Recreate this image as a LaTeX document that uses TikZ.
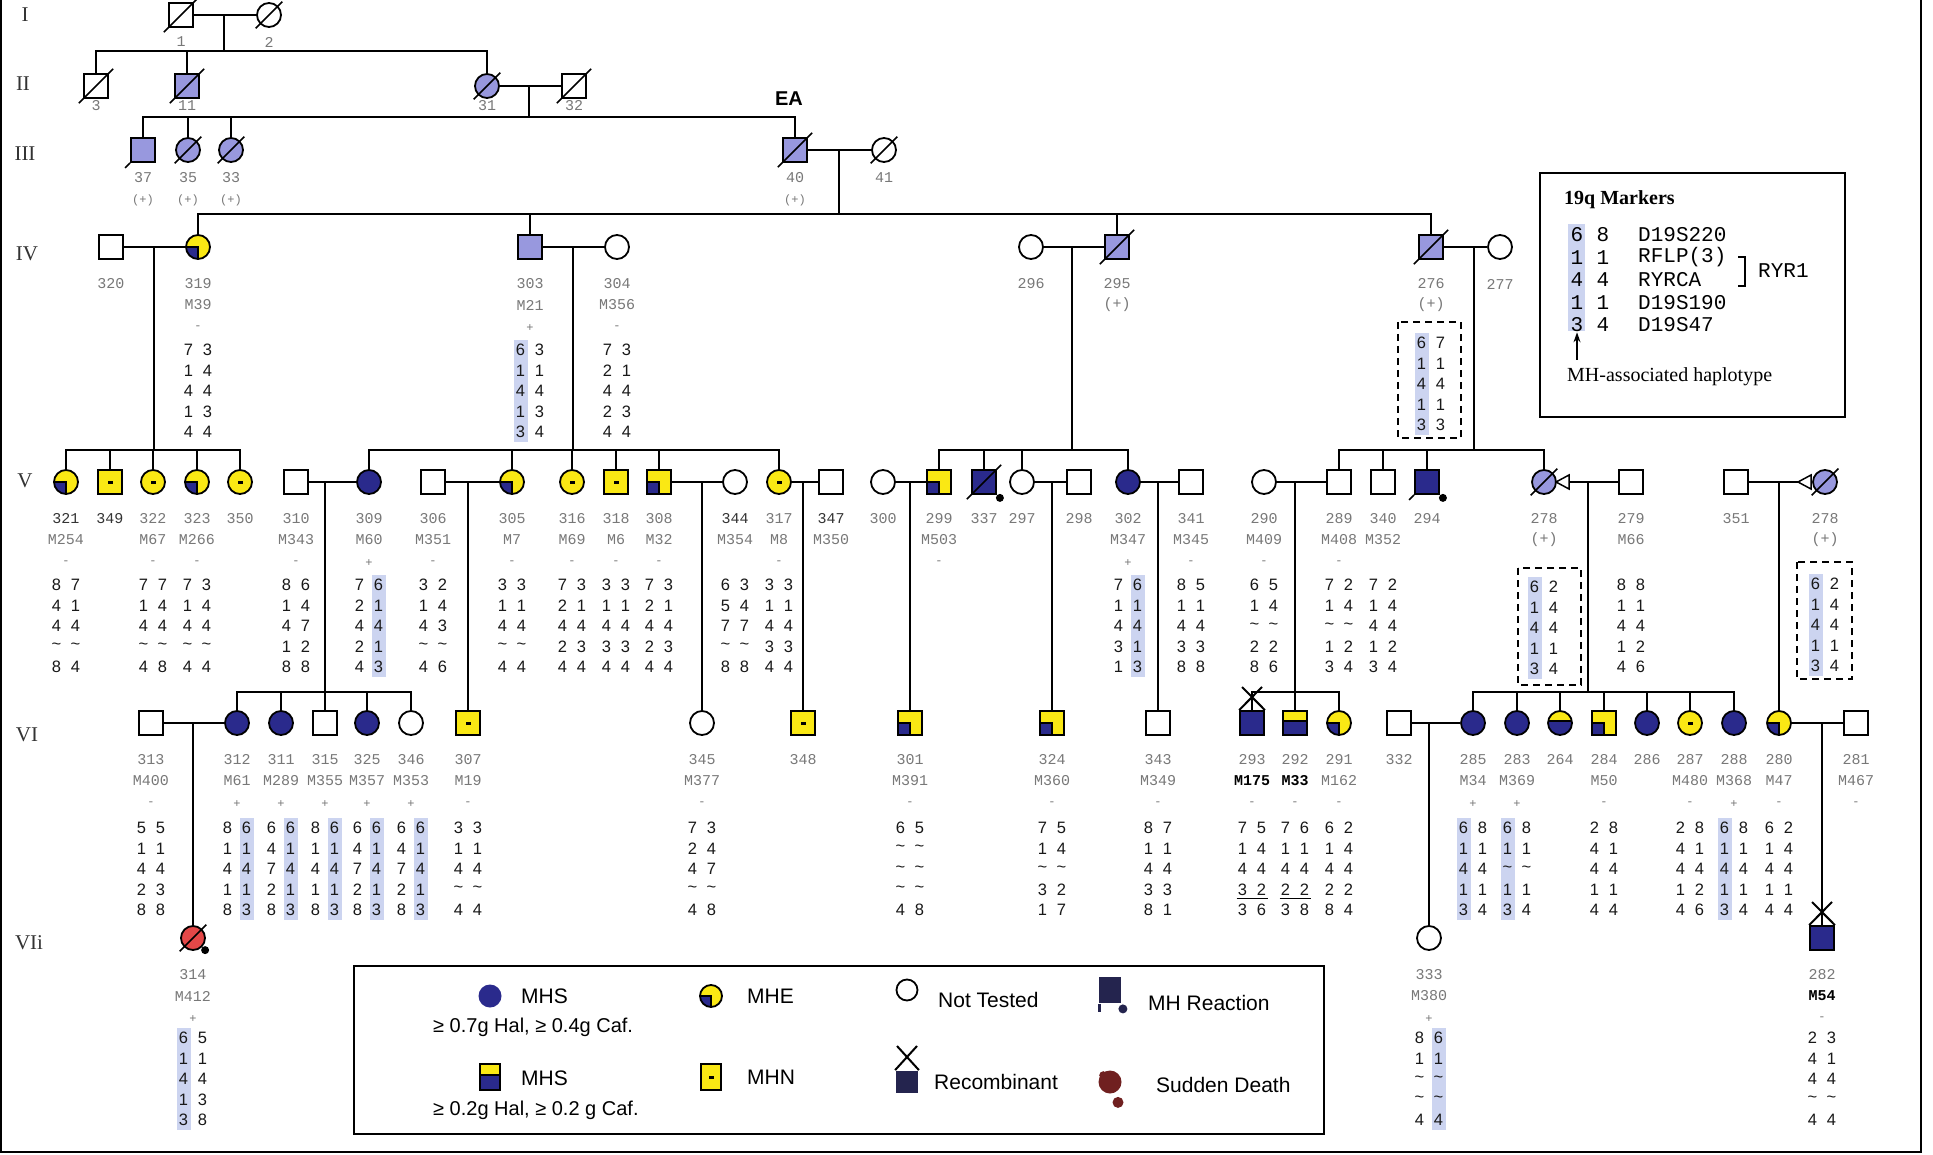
\documentclass[tikz,border=0pt]{standalone}
\usepackage{fontspec}
\setmainfont{Liberation Sans}
\newfontfamily\monof{Liberation Mono}
\newfontfamily\seriff{Liberation Serif}
\usetikzlibrary{arrows.meta}

\definecolor{mhsblue}{RGB}{42,42,140}
\definecolor{lav}{RGB}{152,152,222}
\definecolor{myyellow}{RGB}{250,232,20}
\definecolor{hlblue}{RGB}{204,212,240}
\definecolor{idgrey}{RGB}{120,120,120}
\definecolor{reactblue}{RGB}{36,36,78}
\definecolor{sdred}{RGB}{228,72,72}
\definecolor{sdmaroon}{RGB}{112,32,32}

\newcommand{\tld}{\textasciitilde}
% id, M-number and test result under a symbol
\newcommand{\info}[4]{%
  \node[idtxt] (#1i) at ([shift={(0,37)}]#1.center) {#2};
  \node[idtxt] (#1m) at ([shift={(0,58)}]#1.center) {#3};
  \node[sgn]   (#1s) at ([shift={(0,81)}]#1.center) {#4};}
% haplotype pairs, optional start offset, highlighted column
\newcommand{\hap}[4][103]{%
  \ifnum#4>0
    \fill[hlblue] ([shift={({(#4-1.5)*19-7},{#1-10})}]#2.center) rectangle ++(14,102);
  \fi
  \foreach \ha/\hb [count=\k from 0] in {#3}{
    \node[hp] (#2a\k) at ([shift={(-9.5,{#1+20.5*\k})}]#2.center) {\ha};
    \node[hp] (#2b\k) at ([shift={(9.5,{#1+20.5*\k})}]#2.center) {\hb};}}
% recombinant cross above a symbol
\newcommand{\recx}[1]{%
  \draw[line width=2pt] ([shift={(-10,-36)}]#1.center) -- (#1.north east)
                        ([shift={(10,-36)}]#1.center) -- (#1.north west);}

\begin{document}
\begin{tikzpicture}[x=1pt, y=-1pt,
  ind/.style={draw, line width=1.8pt, minimum size=24pt, inner sep=0pt, fill=white},
  sq/.style={ind, rectangle},
  ci/.style={ind, circle},
  lav/.style={fill=lav},
  mhs/.style={fill=mhsblue},
  mhe/.style={fill=myyellow, path picture={
      \fill[mhsblue] (path picture bounding box.center) rectangle (path picture bounding box.south west);
      \draw[line width=1.5pt] (path picture bounding box.west) -- (path picture bounding box.center)
        -- (path picture bounding box.south);}},
  mhn/.style={fill=myyellow, path picture={
      \fill[black] ([shift={(-2.5pt,-1.5pt)}]path picture bounding box.center)
        rectangle ([shift={(2.5pt,1.5pt)}]path picture bounding box.center);}},
  half/.style={fill=myyellow, path picture={
      \fill[mhsblue] ([shift={(0pt,2pt)}]path picture bounding box.west) rectangle (path picture bounding box.south east);
      \draw[line width=1.5pt] ([shift={(0pt,2pt)}]path picture bounding box.west)
        -- ([shift={(0pt,2pt)}]path picture bounding box.east);}},
  dead/.style={append after command={(\tikzlastnode.south west)
      edge[line width=1.6pt, shorten <=-6pt, shorten >=-6pt] (\tikzlastnode.north east)}},
  ln/.style={line width=1.8pt},
  idtxt/.style={font=\monof\fontsize{15}{15}\selectfont, text=idgrey, inner sep=0pt},
  sgn/.style={font=\monof\fontsize{12}{12}\selectfont, text=idgrey, inner sep=0pt},
  hp/.style={font=\fontsize{16.5}{16.5}\selectfont, text=black!90, inner sep=0pt},
  gen/.style={font=\seriff\fontsize{21}{21}\selectfont, text=black!80},
  mk/.style={font=\monof\fontsize{21}{21}\selectfont, inner sep=0pt},
  lgt/.style={anchor=west, font=\fontsize{21}{21}\selectfont, inner sep=0pt},
  lgs/.style={anchor=west, font=\fontsize{20}{20}\selectfont, inner sep=0pt}
]
\path[fill=white, use as bounding box] (0,0) rectangle (1933,1155);
\draw[line width=2pt] (1,0) -- (1,1152) -- (1921,1152) -- (1921,0);

% generations
\node[gen] (gI)   at (25,15)  {I};
\node[gen] (gII)  at (23,84)  {II};
\node[gen] (gIII) at (25,154) {III};
\node[gen] (gIV)  at (27,254) {IV};
\node[gen] (gV)   at (25,481) {V};
\node[gen] (gVI)  at (27,735) {VI};
\node[gen] (gVII) at (29,943) {VIi};
\node[font=\bfseries\fontsize{20}{20}\selectfont] (ea) at (789,99) {EA};

% I
\node[sq,dead] (p1) at (181,15) {};
\node[ci,dead] (p2) at (269,15) {};
\node[idtxt] (p1i) at (181,42) {1};
\node[idtxt] (p2i) at (269,42) {2};
\draw[ln] (p1) -- (p2);
\coordinate (m1) at (224,15);
\coordinate (s1) at (224,51);
\draw[ln] (m1) -- (s1);

% II
\node[sq,dead] (p3) at (96,86) {};
\node[sq,lav,dead] (p11) at (187,86) {};
\node[ci,lav,dead] (p31) at (487,86) {};
\node[sq,dead] (p32) at (574,86) {};
\foreach \n/\x in {3/96,11/187,31/487,32/574}
  \node[idtxt] (p\n i) at (\x,106) {\n};
\foreach \c in {p3,p11,p31}
  \draw[ln] (\c) |- (s1);
\draw[ln] (p31) -- (p32);
\coordinate (m31) at (529,86);
\coordinate (s31) at (529,117);
\draw[ln] (m31) -- (s31);

% III
\node[sq,lav] (p37) at (143,150) {};
\draw[line width=1.6pt] (p37.south west) -- ++(-5,5);
\node[ci,lav,dead] (p35) at (188,150) {};
\node[ci,lav,dead] (p33) at (231,150) {};
\node[sq,lav,dead] (p40) at (795,150) {};
\node[ci,dead] (p41) at (884,150) {};
\foreach \n/\x in {37/143,35/188,33/231,40/795}{
  \node[idtxt] (p\n i) at (\x,178) {\n};
  \node[sgn] (p\n p) at (\x,200) {(+)};}
\node[idtxt] (p41i) at (884,178) {41};
\foreach \c in {p37,p35,p33,p40}
  \draw[ln] (\c) |- (s31);
\draw[ln] (p40) -- (p41);
\coordinate (m40) at (839,150);
\coordinate (s40) at (839,214);
\draw[ln] (m40) -- (s40);

% IV
\node[sq] (p320) at (111,247) {};
\node[ci,mhe] (p319) at (198,247) {};
\node[sq,lav] (p303) at (530,247) {};
\node[ci] (p304) at (617,247) {};
\node[ci] (p296) at (1031,247) {};
\node[sq,lav,dead] (p295) at (1117,247) {};
\node[sq,lav,dead] (p276) at (1431,247) {};
\node[ci] (p277) at (1500,247) {};
\foreach \c in {p319,p303,p295,p276}
  \draw[ln] (\c) |- (s40);
\draw[ln] (p320) -- (p319);
\draw[ln] (p303) -- (p304);
\draw[ln] (p296) -- (p295);
\draw[ln] (p276) -- (p277);
\coordinate (m319) at (154,247); \coordinate (s319) at (154,450);
\coordinate (m303) at (573,247); \coordinate (s303) at (573,450);
\coordinate (m295) at (1072,247); \coordinate (s295) at (1072,450);
\coordinate (m276) at (1474,247); \coordinate (s276) at (1474,450);
\draw[ln] (m319) -- (s319);
\draw[ln] (m303) -- (s303);
\draw[ln] (m295) -- (s295);
\draw[ln] (m276) -- (s276);

\info{p320}{320}{}{}
\info{p319}{319}{M39}{-}
\info{p303}{303}{M21}{+}
\info{p304}{304}{M356}{-}
\info{p296}{296}{}{}
\info{p295}{295}{(+)}{}
\info{p276}{276}{(+)}{}
\info{p277}{277}{}{}
\hap{p319}{7/3,1/4,4/4,1/3,4/4}{0}
\hap{p303}{6/3,1/1,4/4,1/3,3/4}{1}
\hap{p304}{7/3,2/1,4/4,2/3,4/4}{0}
\draw[dashed, line width=1.6pt, dash pattern=on 7pt off 5pt] (1398,322) rectangle (1461,438);
\hap[96]{p276}{6/7,1/1,4/4,1/1,3/3}{1}

% V
\node[ci,mhe] (p321) at (66,482) {};
\node[sq,mhn] (p349) at (110,482) {};
\node[ci,mhn] (p322) at (153,482) {};
\node[ci,mhe] (p323) at (197,482) {};
\node[ci,mhn] (p350) at (240,482) {};
\node[sq] (p310) at (296,482) {};
\node[ci,mhs] (p309) at (369,482) {};
\node[sq] (p306) at (433,482) {};
\node[ci,mhe] (p305) at (512,482) {};
\node[ci,mhn] (p316) at (572,482) {};
\node[sq,mhn] (p318) at (616,482) {};
\node[sq,mhe] (p308) at (659,482) {};
\node[ci] (p344) at (735,482) {};
\node[ci,mhn] (p317) at (779,482) {};
\node[sq] (p347) at (831,482) {};
\node[ci] (p300) at (883,482) {};
\node[sq,mhe] (p299) at (939,482) {};
\node[sq,mhs,dead] (p337) at (984,482) {};
\node[ci] (p297) at (1022,482) {};
\node[sq] (p298) at (1079,482) {};
\node[ci,mhs] (p302) at (1128,482) {};
\node[sq] (p341) at (1191,482) {};
\node[ci] (p290) at (1264,482) {};
\node[sq] (p289) at (1339,482) {};
\node[sq] (p340) at (1383,482) {};
\node[sq,mhs] (p294) at (1427,482) {};
\node[ci,lav,dead] (p278) at (1544,482) {};
\node[sq] (p279) at (1631,482) {};
\node[sq] (p351) at (1736,482) {};
\node[ci,lav,dead] (p278b) at (1825,482) {};
\fill ([shift={(3,3)}]p337.south east) circle (4);
\draw[line width=1.6pt] (p294.south west) -- ++(-5,5);
\fill ([shift={(3,3)}]p294.south east) circle (4);

\foreach \c in {p321,p349,p322,p323,p350}
  \draw[ln] (\c) |- (s319);
\foreach \c in {p309,p305,p316,p318,p308,p317}
  \draw[ln] (\c) |- (s303);
\foreach \c in {p299,p337,p297,p302}
  \draw[ln] (\c) |- (s295);
\foreach \c in {p289,p340,p294,p278}
  \draw[ln] (\c) |- (s276);

\draw[ln] (p310) -- (p309);
\draw[ln] (p306) -- (p305);
\draw[ln] (p308) -- (p344);
\draw[ln] (p317) -- (p347);
\draw[ln] (p300) -- (p299);
\draw[ln] (p297) -- (p298);
\draw[ln] (p302) -- (p341);
\draw[ln] (p290) -- (p289);
\draw[ln] (p278) -- (p279);
\draw[ln] (p351) -- (p278b);
% pointers between the two copies of 278
\draw[line width=1.5pt, fill=white] (1556,482) -- (1569,475) -- (1569,489) -- cycle;
\draw[line width=1.5pt, fill=white] (1798,482) -- (1811,475) -- (1811,489) -- cycle;

\info{p321}{\textcolor{black!80}{321}}{M254}{-}
\info{p349}{\textcolor{black!80}{349}}{}{}
\info{p322}{322}{M67}{-}
\info{p323}{323}{M266}{-}
\info{p350}{350}{}{}
\info{p310}{310}{M343}{-}
\info{p309}{309}{M60}{+}
\info{p306}{306}{M351}{-}
\info{p305}{305}{M7}{-}
\info{p316}{316}{M69}{-}
\info{p318}{318}{M6}{-}
\info{p308}{308}{M32}{-}
\info{p344}{\textcolor{black!80}{344}}{M354}{}
\info{p317}{317}{M8}{-}
\info{p347}{\textcolor{black!80}{347}}{M350}{}
\info{p300}{300}{}{}
\info{p299}{299}{M503}{-}
\info{p337}{337}{}{}
\info{p297}{297}{}{}
\info{p298}{298}{}{}
\info{p302}{302}{M347}{+}
\info{p341}{341}{M345}{-}
\info{p290}{290}{M409}{-}
\info{p289}{289}{M408}{-}
\info{p340}{340}{M352}{}
\info{p294}{294}{}{}
\info{p278}{278}{(+)}{}
\info{p279}{279}{M66}{}
\info{p351}{351}{}{}
\info{p278b}{278}{(+)}{}

\hap{p321}{8/7,4/1,4/4,\tld/\tld,8/4}{0}
\hap{p322}{7/7,1/4,4/4,\tld/\tld,4/8}{0}
\hap{p323}{7/3,1/4,4/4,\tld/\tld,4/4}{0}
\hap{p310}{8/6,1/4,4/7,1/2,8/8}{0}
\hap{p309}{7/6,2/1,4/4,2/1,4/3}{2}
\hap{p306}{3/2,1/4,4/3,\tld/\tld,4/6}{0}
\hap{p305}{3/3,1/1,4/4,\tld/\tld,4/4}{0}
\hap{p316}{7/3,2/1,4/4,2/3,4/4}{0}
\hap{p318}{3/3,1/1,4/4,3/3,4/4}{0}
\hap{p308}{7/3,2/1,4/4,2/3,4/4}{0}
\hap{p344}{6/3,5/4,7/7,\tld/\tld,8/8}{0}
\hap{p317}{3/3,1/1,4/4,3/3,4/4}{0}
\hap{p302}{7/6,1/1,4/4,3/1,1/3}{2}
\hap{p341}{8/5,1/1,4/4,3/3,8/8}{0}
\hap{p290}{6/5,1/4,\tld/\tld,2/2,8/6}{0}
\hap{p289}{7/2,1/4,\tld/\tld,1/2,3/4}{0}
\hap{p340}{7/2,1/4,4/4,1/2,3/4}{0}
\draw[dashed, line width=1.6pt, dash pattern=on 7pt off 5pt] (1518,568) rectangle (1581,685);
\hap[105]{p278}{6/2,1/4,4/4,1/1,3/4}{1}
\hap{p279}{8/8,1/1,4/4,1/2,4/6}{0}
\draw[dashed, line width=1.6pt, dash pattern=on 7pt off 5pt] (1797,562) rectangle (1852,679);
\hap[102]{p278b}{6/2,1/4,4/4,1/1,3/4}{1}

% VI
\coordinate (m309) at (325,482); \coordinate (s309) at (325,692);
\coordinate (m305) at (468,482);
\coordinate (m308) at (702,482);
\coordinate (m317) at (803,482);
\coordinate (m299) at (910,482);
\coordinate (m297) at (1052,482);
\coordinate (m302) at (1158,482);
\coordinate (m289) at (1295,482); \coordinate (s289) at (1295,692);
\coordinate (m278) at (1588,482); \coordinate (s278) at (1588,692);
\coordinate (m278b) at (1779,482);

\node[sq] (p313) at (151,723) {};
\node[ci,mhs] (p312) at (237,723) {};
\node[ci,mhs] (p311) at (281,723) {};
\node[sq] (p315) at (325,723) {};
\node[ci,mhs] (p325) at (367,723) {};
\node[ci] (p346) at (411,723) {};
\node[sq,mhn] (p307) at (468,723) {};
\node[ci] (p345) at (702,723) {};
\node[sq,mhn] (p348) at (803,723) {};
\node[sq,mhe] (p301) at (910,723) {};
\node[sq,mhe] (p324) at (1052,723) {};
\node[sq] (p343) at (1158,723) {};
\node[sq,mhs] (p293) at (1252,723) {};
\node[sq,half] (p292) at (1295,723) {};
\node[ci,mhe] (p291) at (1339,723) {};
\node[sq] (p332) at (1399,723) {};
\node[ci,mhs] (p285) at (1473,723) {};
\node[ci,mhs] (p283) at (1517,723) {};
\node[ci,half] (p264) at (1560,723) {};
\node[sq,mhe] (p284) at (1604,723) {};
\node[ci,mhs] (p286) at (1647,723) {};
\node[ci,mhn] (p287) at (1690,723) {};
\node[ci,mhs] (p288) at (1734,723) {};
\node[ci,mhe] (p280) at (1779,723) {};
\node[sq] (p281) at (1856,723) {};

\draw[ln] (m309) -- (s309);
\foreach \c in {p312,p311,p315,p325,p346}
  \draw[ln] (\c) |- (s309);
\draw[ln] (m305) -- (p307);
\draw[ln] (m308) -- (p345);
\draw[ln] (m317) -- (p348);
\draw[ln] (m299) -- (p301);
\draw[ln] (m297) -- (p324);
\draw[ln] (m302) -- (p343);
\draw[ln] (m289) -- (s289);
\foreach \c in {p293,p292,p291}
  \draw[ln] (\c) |- (s289);
\draw[ln] (m278) -- (s278);
\foreach \c in {p285,p283,p264,p284,p286,p287,p288}
  \draw[ln] (\c) |- (s278);
\draw[ln] (m278b) -- (p280);
\recx{p293}

\draw[ln] (p313) -- (p312);
\draw[ln] (p332) -- (p285);
\draw[ln] (p280) -- (p281);
\coordinate (m312) at (193,723);
\coordinate (m285) at (1429,723);
\coordinate (m280) at (1822,723);

\info{p313}{313}{M400}{-}
\info{p312}{312}{M61}{+}
\info{p311}{311}{M289}{+}
\info{p315}{315}{M355}{+}
\info{p325}{325}{M357}{+}
\info{p346}{346}{M353}{+}
\info{p307}{307}{M19}{-}
\info{p345}{345}{M377}{-}
\info{p348}{348}{}{}
\info{p301}{301}{M391}{-}
\info{p324}{324}{M360}{-}
\info{p343}{343}{M349}{-}
\info{p293}{293}{\textcolor{black}{\bfseries M175}}{-}
\info{p292}{292}{\textcolor{black}{\bfseries M33}}{-}
\info{p291}{291}{M162}{-}
\info{p332}{332}{}{}
\info{p285}{285}{M34}{+}
\info{p283}{283}{M369}{+}
\info{p264}{264}{}{}
\info{p284}{284}{M50}{-}
\info{p286}{286}{}{}
\info{p287}{287}{M480}{-}
\info{p288}{288}{M368}{+}
\info{p280}{280}{M47}{-}
\info{p281}{281}{M467}{-}

\hap[105]{p313}{5/5,1/1,4/4,2/3,8/8}{0}
\hap[105]{p312}{8/6,1/1,4/4,1/1,8/3}{2}
\hap[105]{p311}{6/6,4/1,7/4,2/1,8/3}{2}
\hap[105]{p315}{8/6,1/1,4/4,1/1,8/3}{2}
\hap[105]{p325}{6/6,4/1,7/4,2/1,8/3}{2}
\hap[105]{p346}{6/6,4/1,7/4,2/1,8/3}{2}
\hap[105]{p307}{3/3,1/1,4/4,\tld/\tld,4/4}{0}
\hap[105]{p345}{7/3,2/4,4/7,\tld/\tld,4/8}{0}
\hap[105]{p301}{6/5,\tld/\tld,\tld/\tld,\tld/\tld,4/8}{0}
\hap[105]{p324}{7/5,1/4,\tld/\tld,3/2,1/7}{0}
\hap[105]{p343}{8/7,1/1,4/4,3/3,8/1}{0}
\hap[105]{p293}{7/5,1/4,4/4,3/2,3/6}{0}
\hap[105]{p292}{7/6,1/1,4/4,2/2,3/8}{0}
\hap[105]{p291}{6/2,1/4,4/4,2/2,8/4}{0}
\hap[105]{p285}{6/8,1/1,4/4,1/1,3/4}{1}
\hap[105]{p283}{6/8,1/1,\tld/\tld,1/1,3/4}{1}
\hap[105]{p284}{2/8,4/1,4/4,1/1,4/4}{0}
\hap[105]{p287}{2/8,4/1,4/4,1/2,4/6}{0}
\hap[105]{p288}{6/8,1/1,4/4,1/1,3/4}{1}
\hap[105]{p280}{6/2,1/4,4/4,1/1,4/4}{0}
\draw[line width=1pt] ([shift={(-6,9)}]p293a3.center) -- ([shift={(6,9)}]p293b3.center);
\draw[line width=1pt] ([shift={(-6,9)}]p292a3.center) -- ([shift={(6,9)}]p292b3.center);

% VIi
\node[ci,fill=sdred,dead] (p314) at (193,938) {};
\fill ([shift={(3,3)}]p314.south east) circle (4);
\node[ci] (p333) at (1429,938) {};
\node[sq,mhs] (p282) at (1822,938) {};
\draw[ln] (m312) -- (p314);
\draw[ln] (m285) -- (p333);
\draw[ln] (m280) -- (p282);
\recx{p282}
\info{p314}{314}{M412}{+}
\info{p333}{333}{M380}{+}
\info{p282}{282}{\textcolor{black}{\bfseries M54}}{-}
\hap[100]{p314}{6/5,1/1,4/4,1/3,3/8}{1}
\hap[100]{p333}{8/6,1/1,\tld/\tld,\tld/\tld,4/4}{2}
\hap[100]{p282}{2/3,4/1,4/4,\tld/\tld,4/4}{0}

% 19q markers key
\draw[line width=2.5pt] (1540,173) rectangle (1845,417);
\node[anchor=west, inner sep=0pt, font=\seriff\bfseries\fontsize{20}{20}\selectfont] (mkt) at (1564,200) {19q Markers};
\fill[hlblue] (1568,224) rectangle (1585,331);
\foreach \ha/\hb/\nm [count=\k from 0] in {6/8/D19S220,1/1/RFLP(3),4/4/RYRCA,1/1/D19S190,3/4/D19S47}{
  \node[mk] (mka\k) at (1577,{235+22.5*\k}) {\ha};
  \node[mk] (mkb\k) at (1603,{235+22.5*\k}) {\hb};
  \node[mk, anchor=west] (mkn\k) at (1638,{235+22.5*\k}) {\nm};}
\draw[line width=2pt] (1738,257) -- (1745,257) -- (1745,286) -- (1738,286);
\node[mk, anchor=west] (ryr) at (1758,271) {RYR1};
\coordinate (arrtail) at (1577,360);
\draw[line width=1.5pt, -{Stealth[length=10pt,width=7pt]}] (arrtail) -- (mka4.south);
\node[anchor=west, inner sep=0pt, font=\seriff\fontsize{20}{20}\selectfont] (mhhap) at (1567,377) {MH-associated haplotype};

% symbol key
\draw[line width=2.5pt] (354,966) rectangle (1324,1134);
\node[ci, mhs, draw=none, minimum size=23pt] (lg1) at (490,996) {};
\node[lgt] (lg1t) at (521,996) {MHS};
\node[lgs] (lg1c) at (433,1027) {≥ 0.7g Hal, ≥ 0.4g Caf.};
\node[ci, mhe, minimum size=22pt] (lg2) at (711,996) {};
\node[lgt] (lg2t) at (747,996) {MHE};
\node[ci, minimum size=21pt] (lg3) at (907,990) {};
\node[lgt] (lg3t) at (938,1000) {Not Tested};
\node[sq, fill=reactblue, draw=none, minimum width=22pt, minimum height=26pt] (lg4) at (1110,990) {};
\draw[reactblue, line width=3pt] ([shift={(1.5,0)}]lg4.south west) -- ++(0,8);
\fill[reactblue] ([shift={(1,5)}]lg4.south east) circle (4.5);
\node[lgt] (lg4t) at (1148,1003) {MH Reaction};
\node[sq, half, minimum width=20pt, minimum height=26pt] (lg5) at (490,1077) {};
\node[lgt] (lg5t) at (521,1078) {MHS};
\node[lgs] (lg5c) at (433,1110) {≥ 0.2g Hal, ≥ 0.2 g Caf.};
\node[sq, mhn, minimum width=20pt, minimum height=26pt] (lg6) at (711,1077) {};
\node[lgt] (lg6t) at (747,1077) {MHN};
\node[sq, fill=reactblue, draw=none, minimum size=22pt] (lg7) at (907,1082) {};
\recx{lg7}
\node[lgt] (lg7t) at (934,1082) {Recombinant};
\node[ci, fill=sdmaroon, draw=none, minimum size=23pt] (lg8) at (1110,1082) {};
\fill[sdmaroon] ([shift={(8,8)}]lg8.south) circle (5.5);
\fill[sdmaroon] ([shift={(2,2)}]lg8.north west) circle (4);
\node[lgt] (lg8t) at (1156,1085) {Sudden Death};
\end{tikzpicture}
\end{document}
